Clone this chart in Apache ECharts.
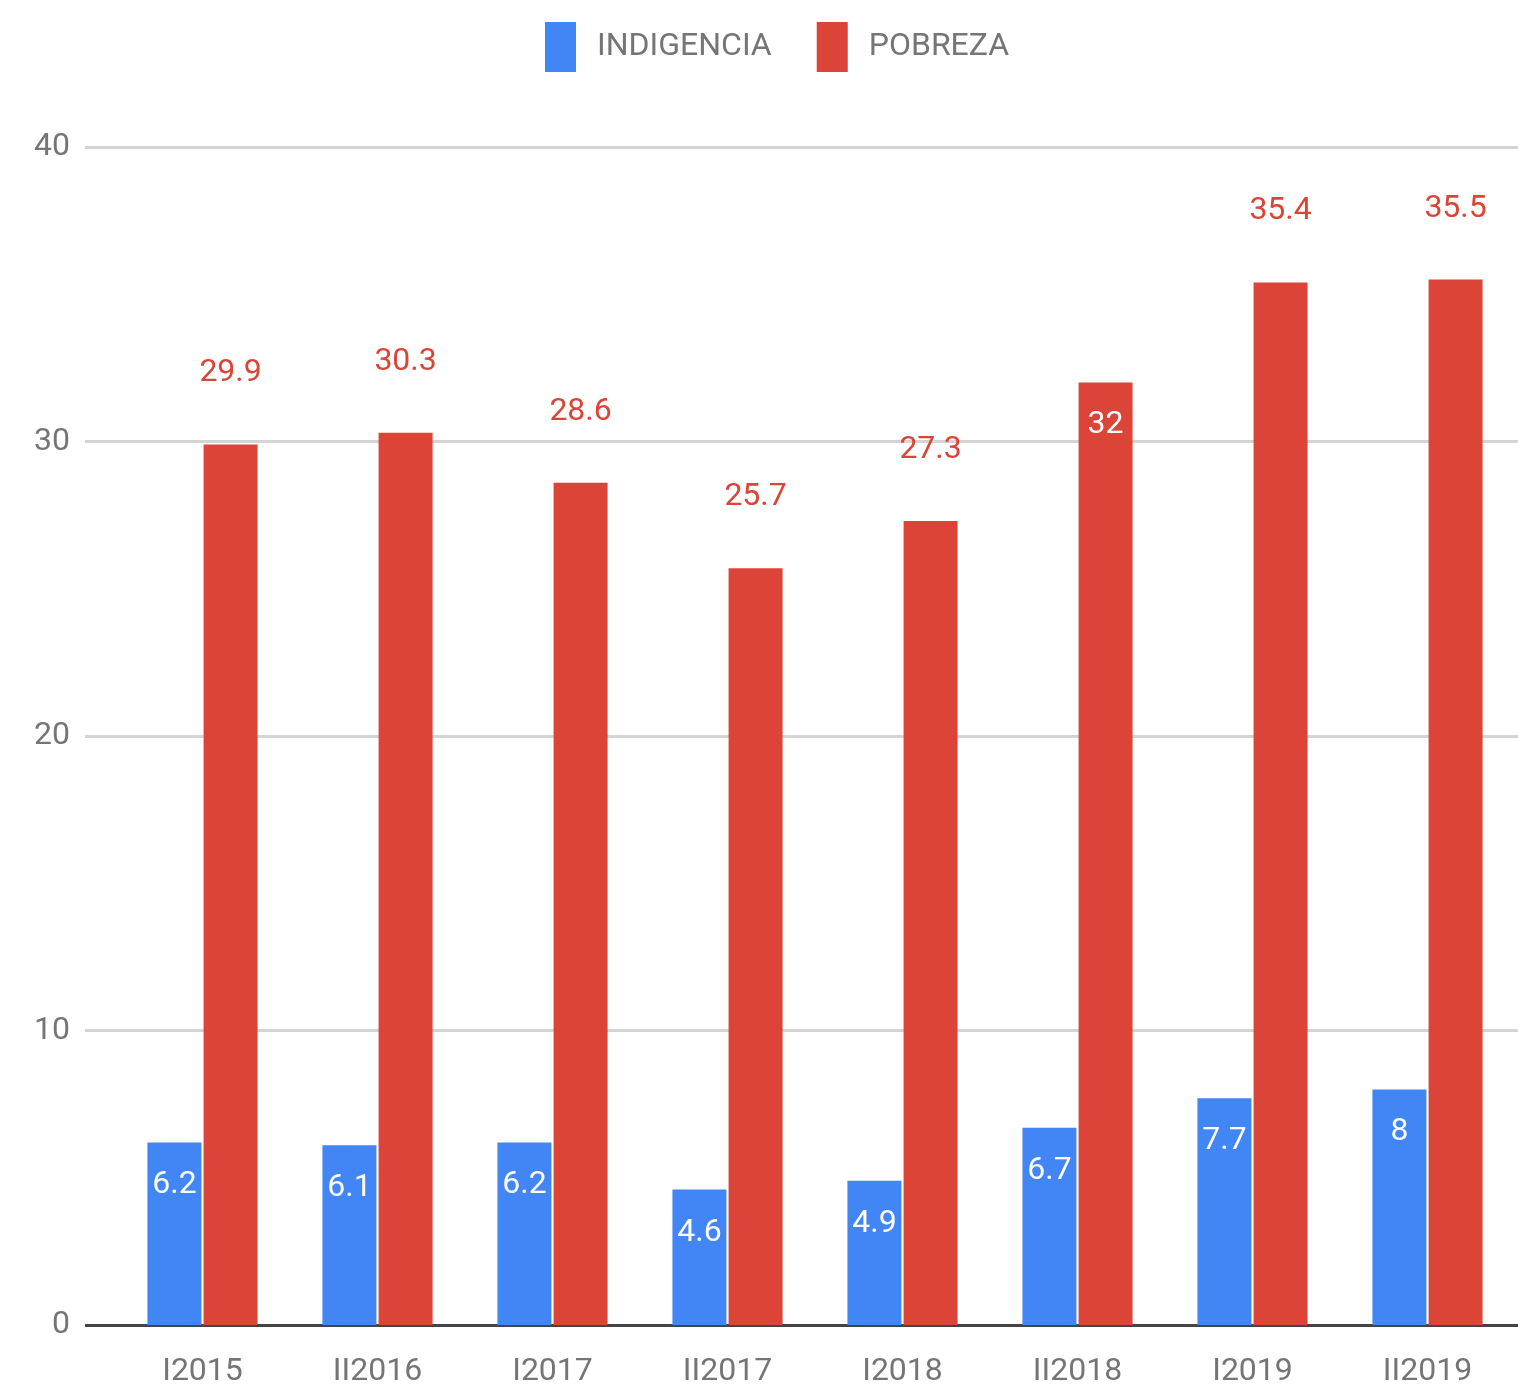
<!DOCTYPE html>
<html>
<head>
<meta charset="utf-8">
<script src="https://cdn.jsdelivr.net/npm/echarts@6/dist/echarts.min.js"></script>
<style>
    html, body { margin: 0; padding: 0; background: #fff; }
    #main { width: 1518px; height: 1392px; }
</style>
</head>
<body>
<div id="main"></div>
<script>
var categories = ['I2015', 'II2016', 'I2017', 'II2017', 'I2018', 'II2018', 'I2019', 'II2019'];
var indigencia = [6.2, 6.1, 6.2, 4.6, 4.9, 6.7, 7.7, 8];
var pobreza = [29.9, 30.3, 28.6, 25.7, 27.3, 32, 35.4, 35.5];
var yTicks = [0, 10, 20, 30, 40];

var BLUE = '#4285F4';
var RED = '#DB4437';
var FONT = 'Roboto';

var chart = echarts.init(document.getElementById('main'));

// el 32 lleva la etiqueta dentro de la barra, como en el original
var pobrezaData = pobreza.map(function (v, i) {
    if (i === 5) {
        return { value: v, label: { position: 'insideTop', distance: 26, color: '#fff' } };
    }
    return v;
});

var option = {
    animation: false,
    legend: {
        left: 540,
        top: 17,
        itemWidth: 31,
        itemHeight: 50,
        itemGap: 45,
        icon: 'rect',
        textStyle: {
            fontFamily: FONT,
            fontSize: 32,
            color: '#757575',
            padding: [0, 0, 0, 16]
        },
        data: ['INDIGENCIA', 'POBREZA']
    },
    grid: [
        { left: 115, right: 3, top: 147, bottom: 67 },   // barras
        { left: 85, right: 0, top: 147, bottom: 67 }     // lineas de fondo
    ],
    xAxis: [
        {
            type: 'category',
            gridIndex: 0,
            data: categories,
            axisLine: { show: false },
            axisTick: { show: false },
            axisLabel: {
                margin: 31,
                fontFamily: FONT,
                fontSize: 32,
                color: '#757575'
            }
        },
        {
            type: 'value',
            gridIndex: 1,
            show: false
        }
    ],
    yAxis: [
        {
            type: 'value',
            gridIndex: 0,
            min: yTicks[0],
            max: yTicks[yTicks.length - 1],
            interval: 10,
            show: false
        },
        {
            type: 'value',
            gridIndex: 1,
            min: yTicks[0],
            max: yTicks[yTicks.length - 1],
            interval: 10,
            axisLine: { show: false },
            axisTick: { show: false },
            axisLabel: {
                margin: 15,
                fontFamily: FONT,
                fontSize: 32,
                color: '#757575'
            },
            splitLine: {
                lineStyle: {
                    color: ['#444', '#d4d4d4', '#d4d4d4', '#d4d4d4', '#d4d4d4'],
                    width: 3
                }
            }
        }
    ],
    series: [
        {
            name: 'INDIGENCIA',
            type: 'bar',
            xAxisIndex: 0,
            yAxisIndex: 0,
            barWidth: 54,
            barGap: '4%',
            z: 5,
            itemStyle: { color: BLUE },
            label: {
                show: true,
                position: 'insideTop',
                distance: 27,
                color: '#fff',
                fontFamily: FONT,
                fontSize: 32
            },
            data: indigencia
        },
        {
            name: 'POBREZA',
            type: 'bar',
            xAxisIndex: 0,
            yAxisIndex: 0,
            barWidth: 54,
            z: 5,
            itemStyle: { color: RED },
            label: {
                show: true,
                position: 'top',
                distance: 55,
                color: RED,
                fontFamily: FONT,
                fontSize: 32
            },
            data: pobrezaData
        }
    ]
};

chart.setOption(option);
</script>
</body>
</html>
